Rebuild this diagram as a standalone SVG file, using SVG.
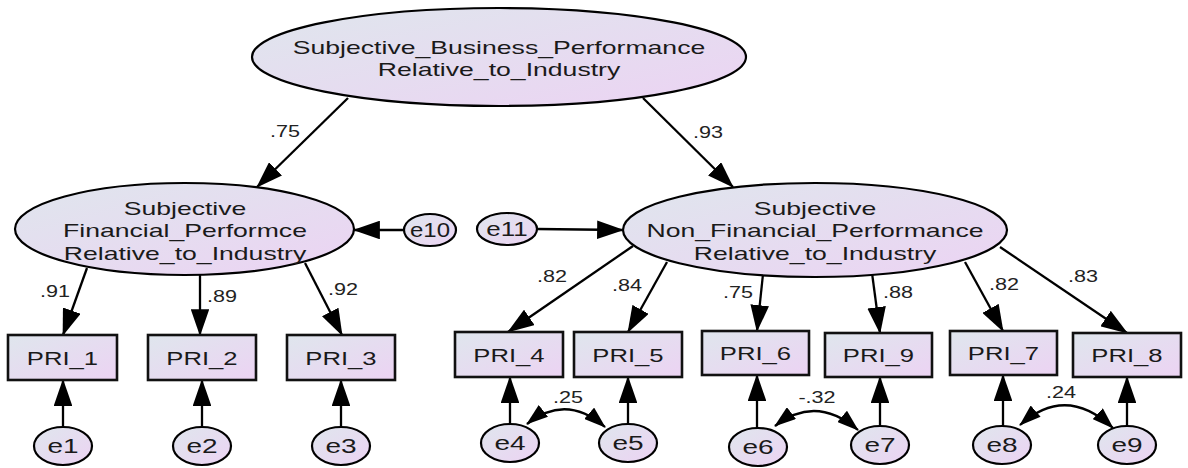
<svg xmlns="http://www.w3.org/2000/svg" width="1188" height="468" viewBox="0 0 1188 468">
  <defs>
    <linearGradient id="fillGrad" x1="0" y1="0" x2="1" y2="1">
      <stop offset="0" stop-color="#dfe6ed"/>
      <stop offset="1" stop-color="#ecd3f3"/>
    </linearGradient>
    <!-- arrowheads sized in stroke widths (stroke 2.3 => about 27 x 19 px) -->
    <marker id="head" viewBox="0 0 26 18" refX="25" refY="9" markerWidth="11.7" markerHeight="8.1" markerUnits="strokeWidth" orient="auto">
      <path d="M0,0 L26,9 L0,18 Z" fill="#000"/>
    </marker>
    <marker id="headSmall" viewBox="0 0 22 15" refX="21" refY="7.5" markerWidth="9.6" markerHeight="6.5" markerUnits="strokeWidth" orient="auto-start-reverse">
      <path d="M0,0 L22,7.5 L0,15 Z" fill="#000"/>
    </marker>
    <style>
      .node { fill: url(#fillGrad); stroke: #000; stroke-width: 2.2; }
      .box { fill: url(#fillGrad); stroke: #111; stroke-width: 2.6; }
      .t { font-family: "Liberation Sans", Arial, sans-serif; font-size: 19px; fill: #1a1a1a; text-anchor: middle; }
      .te { font-family: "Liberation Sans", Arial, sans-serif; font-size: 20px; fill: #1a1a1a; text-anchor: middle; }
      .lbl { font-family: "Liberation Sans", Arial, sans-serif; font-size: 16px; fill: #222; text-anchor: middle; }
      .path { stroke: #000; stroke-width: 2.3; fill: none; }
      .cov { stroke: #000; stroke-width: 2.3; fill: none; }
    </style>
  </defs>

  <!-- connectors: regression paths, residual paths, covariances -->
  <g id="connectors">
    <g marker-end="url(#head)">
      <line class="path" x1="348" y1="98" x2="257" y2="187"/>
      <line class="path" x1="643" y1="98" x2="733" y2="187"/>

      <line class="path" x1="87" y1="268" x2="63" y2="335"/>
      <line class="path" x1="200" y1="272" x2="200" y2="335"/>
      <line class="path" x1="305" y1="263" x2="342" y2="335"/>

      <line class="path" x1="633" y1="246" x2="508" y2="332"/>
      <line class="path" x1="667" y1="262" x2="628" y2="332"/>
      <line class="path" x1="763" y1="274" x2="757" y2="331"/>
      <line class="path" x1="872" y1="273" x2="880" y2="333"/>
      <line class="path" x1="965" y1="262" x2="1003" y2="331"/>
      <line class="path" x1="1000" y1="247" x2="1127" y2="333"/>

      <line class="path" x1="405" y1="230" x2="354" y2="230"/>
      <line class="path" x1="537" y1="229" x2="623" y2="230"/>

      <line class="path" x1="63" y1="428" x2="63" y2="380"/>
      <line class="path" x1="202" y1="428" x2="202" y2="380"/>
      <line class="path" x1="341" y1="428" x2="341" y2="380"/>
      <line class="path" x1="510" y1="425" x2="510" y2="377"/>
      <line class="path" x1="628" y1="425" x2="628" y2="377"/>
      <line class="path" x1="757" y1="429" x2="757" y2="375"/>
      <line class="path" x1="880" y1="427" x2="880" y2="377"/>
      <line class="path" x1="1003" y1="427" x2="1003" y2="375"/>
      <line class="path" x1="1127" y1="427" x2="1127" y2="377"/>
    </g>

    <g marker-start="url(#headSmall)" marker-end="url(#headSmall)">
      <path class="cov" d="M527,424 Q566,393 605,427"/>
      <path class="cov" d="M775,426 Q816,394 858,430"/>
      <path class="cov" d="M1020,425 Q1066,384 1113,428"/>
    </g>

    <text class="lbl" transform="translate(285,137) scale(1.35,1)">.75</text>
    <text class="lbl" transform="translate(708,138) scale(1.35,1)">.93</text>
    <text class="lbl" transform="translate(55,297) scale(1.35,1)">.91</text>
    <text class="lbl" transform="translate(222,302) scale(1.35,1)">.89</text>
    <text class="lbl" transform="translate(343,295) scale(1.35,1)">.92</text>
    <text class="lbl" transform="translate(552,282) scale(1.35,1)">.82</text>
    <text class="lbl" transform="translate(627,291) scale(1.35,1)">.84</text>
    <text class="lbl" transform="translate(738,298) scale(1.35,1)">.75</text>
    <text class="lbl" transform="translate(898,298) scale(1.35,1)">.88</text>
    <text class="lbl" transform="translate(1004,290) scale(1.35,1)">.82</text>
    <text class="lbl" transform="translate(1083,282) scale(1.35,1)">.83</text>
    <text class="lbl" transform="translate(568,403) scale(1.35,1)">.25</text>
    <text class="lbl" transform="translate(817,403) scale(1.35,1)">-.32</text>
    <text class="lbl" transform="translate(1061,398) scale(1.35,1)">.24</text>
  </g>

  <!-- latent variables -->
  <g id="business">
    <ellipse class="node" cx="499" cy="57" rx="247" ry="49"/>
    <text class="t" transform="translate(499,54) scale(1.4,1)">Subjective_Business_Performance</text>
    <text class="t" transform="translate(499,76) scale(1.4,1)">Relative_to_Industry</text>
  </g>
  <g id="financial">
    <ellipse class="node" cx="184.5" cy="229" rx="169.5" ry="46"/>
    <text class="t" transform="translate(185,215) scale(1.4,1)">Subjective</text>
    <text class="t" transform="translate(185,237) scale(1.4,1)">Financial_Performce</text>
    <text class="t" transform="translate(185,260) scale(1.4,1)">Relative_to_Industry</text>
  </g>
  <g id="nonfinancial">
    <ellipse class="node" cx="815" cy="230" rx="192" ry="47"/>
    <text class="t" transform="translate(815,215) scale(1.4,1)">Subjective</text>
    <text class="t" transform="translate(815,237) scale(1.4,1)">Non_Financial_Performance</text>
    <text class="t" transform="translate(815,260) scale(1.4,1)">Relative_to_Industry</text>
  </g>

  <!-- disturbances -->
  <g id="e10">
    <ellipse class="node" cx="430" cy="230" rx="26" ry="16"/>
    <text class="te" transform="translate(430,237) scale(1.2,1)">e10</text>
  </g>
  <g id="e11">
    <ellipse class="node" cx="507" cy="229" rx="30" ry="16"/>
    <text class="te" transform="translate(507,236) scale(1.3,1)">e11</text>
  </g>

  <!-- observed indicators -->
  <g id="PRI_1"><rect class="box" x="8" y="335" width="109" height="45"/><text class="t" transform="translate(62.5,365) scale(1.35,1)">PRI_1</text></g>
  <g id="PRI_2"><rect class="box" x="148" y="335" width="108" height="45"/><text class="t" transform="translate(202,365) scale(1.35,1)">PRI_2</text></g>
  <g id="PRI_3"><rect class="box" x="287" y="335" width="108" height="45"/><text class="t" transform="translate(341,365) scale(1.35,1)">PRI_3</text></g>
  <g id="PRI_4"><rect class="box" x="455" y="332" width="108" height="45"/><text class="t" transform="translate(509,362) scale(1.35,1)">PRI_4</text></g>
  <g id="PRI_5"><rect class="box" x="574" y="332" width="108" height="45"/><text class="t" transform="translate(628,362) scale(1.35,1)">PRI_5</text></g>
  <g id="PRI_6"><rect class="box" x="702" y="331" width="107" height="44"/><text class="t" transform="translate(755.5,360) scale(1.35,1)">PRI_6</text></g>
  <g id="PRI_9"><rect class="box" x="825" y="333" width="107" height="44"/><text class="t" transform="translate(878.5,362) scale(1.35,1)">PRI_9</text></g>
  <g id="PRI_7"><rect class="box" x="950" y="331" width="107" height="44"/><text class="t" transform="translate(1003.5,360) scale(1.35,1)">PRI_7</text></g>
  <g id="PRI_8"><rect class="box" x="1073" y="333" width="108" height="44"/><text class="t" transform="translate(1127,362) scale(1.35,1)">PRI_8</text></g>

  <!-- measurement errors -->
  <g id="e1"><ellipse class="node" cx="63" cy="446" rx="29" ry="19"/><text class="te" transform="translate(63,453) scale(1.4,1)">e1</text></g>
  <g id="e2"><ellipse class="node" cx="202" cy="446" rx="29" ry="19"/><text class="te" transform="translate(202,453) scale(1.4,1)">e2</text></g>
  <g id="e3"><ellipse class="node" cx="341" cy="446" rx="29" ry="19"/><text class="te" transform="translate(341,453) scale(1.4,1)">e3</text></g>
  <g id="e4"><ellipse class="node" cx="510" cy="443" rx="29" ry="19"/><text class="te" transform="translate(510,450) scale(1.4,1)">e4</text></g>
  <g id="e5"><ellipse class="node" cx="628" cy="443" rx="29" ry="19"/><text class="te" transform="translate(628,450) scale(1.4,1)">e5</text></g>
  <g id="e6"><ellipse class="node" cx="758" cy="447" rx="29" ry="19"/><text class="te" transform="translate(758,454) scale(1.4,1)">e6</text></g>
  <g id="e7"><ellipse class="node" cx="880" cy="445" rx="29" ry="19"/><text class="te" transform="translate(880,452) scale(1.4,1)">e7</text></g>
  <g id="e8"><ellipse class="node" cx="1002" cy="445" rx="29" ry="19"/><text class="te" transform="translate(1002,452) scale(1.4,1)">e8</text></g>
  <g id="e9"><ellipse class="node" cx="1127" cy="445" rx="29" ry="19"/><text class="te" transform="translate(1127,452) scale(1.4,1)">e9</text></g>
</svg>
